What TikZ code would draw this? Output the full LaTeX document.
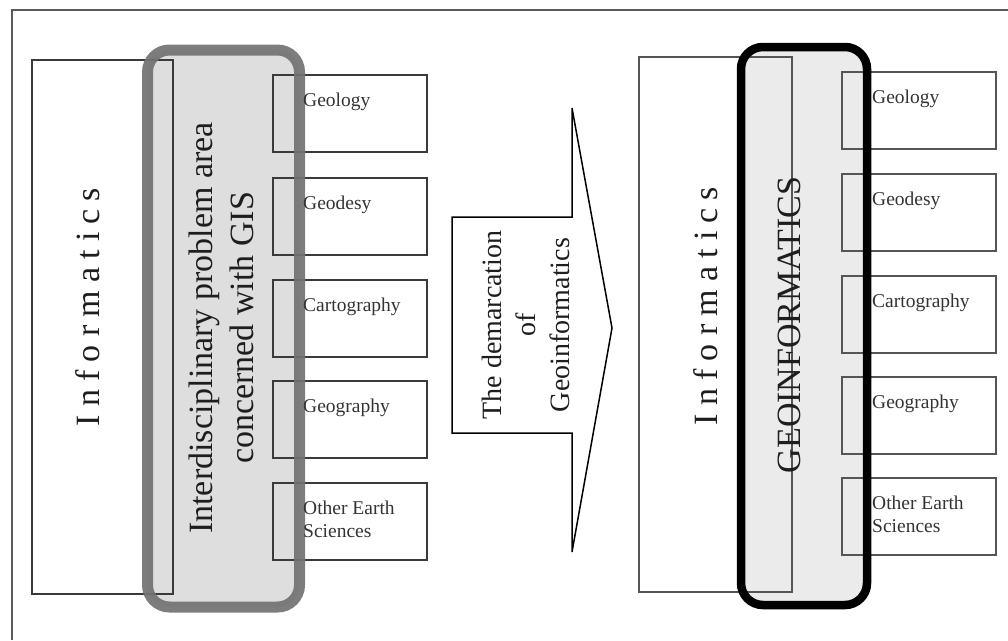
\documentclass[tikz,border=0pt]{standalone}
\usepackage{fontspec}
\setmainfont{Liberation Serif}
\definecolor{framecol}{HTML}{5A5A5A}
\definecolor{boxcol}{HTML}{3A3A3A}
\definecolor{rboxcol}{HTML}{555555}
\definecolor{leftfill}{HTML}{DEDEDE}
\definecolor{leftborder}{HTML}{727272}
\definecolor{rightfill}{HTML}{EBEBEB}
\definecolor{txtcol}{HTML}{1E1E1E}
\definecolor{lblcol}{HTML}{333333}
\begin{document}
\begin{tikzpicture}[x=1pt,y=-1pt,
  framestyle/.style={draw=framecol, line width=1.5pt},
  infobox/.style={draw=boxcol, line width=1.5pt, anchor=north west, inner sep=0pt, outer sep=0pt},
  lbox/.style={draw=#1, line width=1.6pt, minimum width=154pt, minimum height=77pt, anchor=north west, inner sep=0pt, outer sep=0pt},
  lbl/.style={anchor=north west, font=\fontsize{19.5}{23.4}\selectfont, text=lblcol, inner sep=0pt, align=left},
  area/.style={inner sep=0pt, outer sep=0pt, rounded corners=22pt},
  bigtext/.style={rotate=90, text=txtcol, font=\fontsize{34}{41}\selectfont},
  spaced/.style={rotate=90, text=txtcol, font=\fontsize{34}{41}\selectfont\addfontfeature{LetterSpace=24}}
]
\useasboundingbox (0,0) rectangle (1008,640);

% frame
\coordinate (fa) at (12,640);
\coordinate (fb) at (12,10);
\coordinate (fc) at (1008,10);
\draw[framestyle] (fa) -- (fb) -- (fc);

% ---------- left diagram ----------
\node[area, fill=leftfill, minimum width=152pt, minimum height=557pt] (gisarea) at (223.5,328.5) {};
\node[infobox, minimum width=141pt, minimum height=534pt] (infbox1) at (32,60) {};
\node[spaced, anchor=base] (inf1) at (99,307) {Informatics};

\node[lbox=boxcol] (lb1) at (273,75) {};
\node[lbox=boxcol] (lb2) at (273,178) {};
\node[lbox=boxcol] (lb3) at (273,280) {};
\node[lbox=boxcol] (lb4) at (273,381) {};
\node[lbox=boxcol] (lb5) at (273,483) {};

\draw[line width=11pt, draw=leftborder, opacity=0.92, rounded corners=22pt] (gisarea.south west) rectangle (gisarea.north east);

\node[lbl] (lt1) at ([xshift=30pt,yshift=-17.5pt]lb1.north west) {Geology};
\node[lbl] (lt2) at ([xshift=30pt,yshift=-17.5pt]lb2.north west) {Geodesy};
\node[lbl] (lt3) at ([xshift=30pt,yshift=-17.5pt]lb3.north west) {Cartography};
\node[lbl] (lt4) at ([xshift=30pt,yshift=-17.5pt]lb4.north west) {Geography};
\node[lbl] (lt5) at ([xshift=30pt,yshift=-17.5pt]lb5.north west) {Other Earth\\Sciences};

\node[bigtext, align=center, inner sep=0pt] (gistext) at (221,328) {Interdisciplinary problem area\\concerned with GIS};

% ---------- arrow ----------
\draw[line width=1.5pt, draw=black, line join=miter]
  (452,217) -- (572,217) -- (572,108) -- (612,328) -- (572,552) -- (572,433) -- (452,433) -- cycle;
\node[rotate=90, align=center, inner sep=0pt, text=txtcol, font=\fontsize{28}{34}\selectfont] (demarc) at (525.5,325) {The demarcation\\of\\Geoinformatics};

% ---------- right diagram ----------
\node[area, fill=rightfill, minimum width=126pt, minimum height=558pt] (geoarea) at (804,326) {};
\node[infobox, draw=rboxcol, minimum width=153pt, minimum height=535pt] (infbox2) at (639,57) {};
\node[spaced, anchor=base] (inf2) at (717,306) {Informatics};

\node[lbox=rboxcol] (rb1) at (842,72) {};
\node[lbox=rboxcol] (rb2) at (842,174) {};
\node[lbox=rboxcol] (rb3) at (842,276) {};
\node[lbox=rboxcol] (rb4) at (842,377) {};
\node[lbox=rboxcol] (rb5) at (842,478) {};

\draw[line width=8.5pt, draw=black, rounded corners=22pt] (geoarea.south west) rectangle (geoarea.north east);

\node[lbl] (rt1) at ([xshift=30pt,yshift=-17.5pt]rb1.north west) {Geology};
\node[lbl] (rt2) at ([xshift=30pt,yshift=-17.5pt]rb2.north west) {Geodesy};
\node[lbl] (rt3) at ([xshift=30pt,yshift=-17.5pt]rb3.north west) {Cartography};
\node[lbl] (rt4) at ([xshift=30pt,yshift=-17.5pt]rb4.north west) {Geography};
\node[lbl] (rt5) at ([xshift=30pt,yshift=-17.5pt]rb5.north west) {Other Earth\\Sciences};

\node[bigtext, anchor=base] (geoinf) at (800,325) {GEOINFORMATICS};
\end{tikzpicture}
\end{document}
